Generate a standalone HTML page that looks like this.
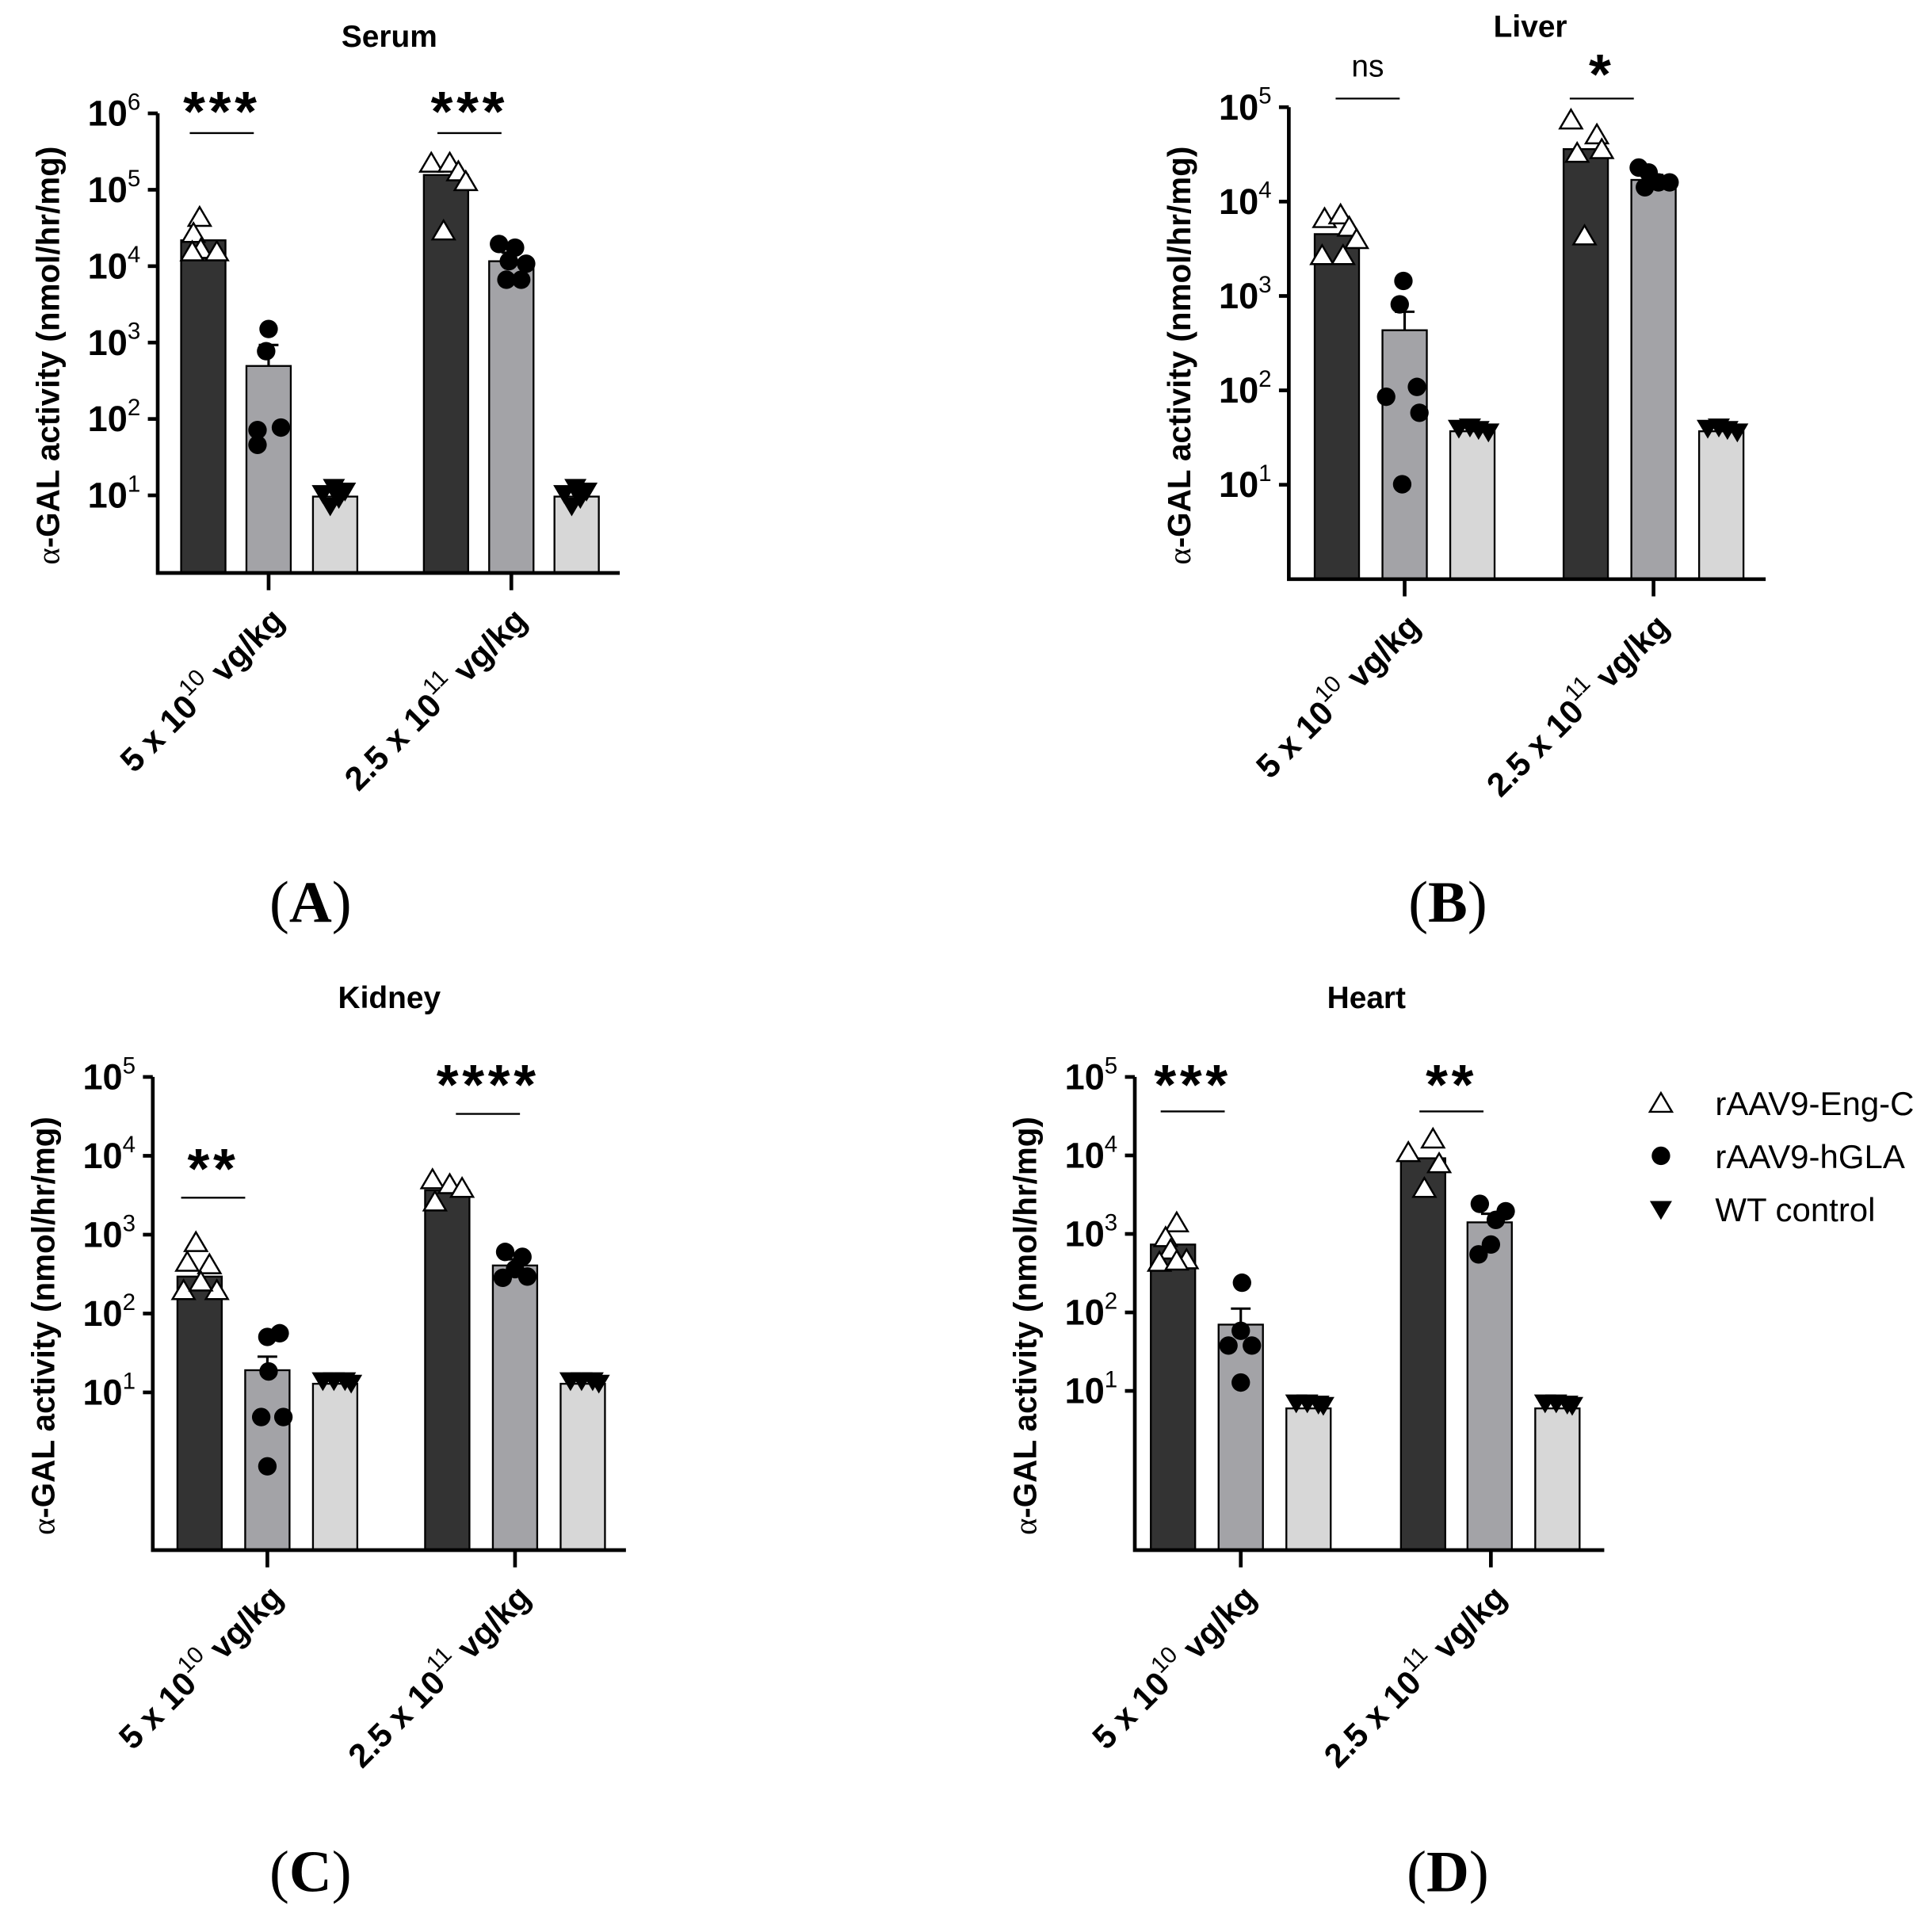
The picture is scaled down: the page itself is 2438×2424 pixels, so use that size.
<!DOCTYPE html>
<html><head><meta charset="utf-8"><style>
html,body{margin:0;padding:0;background:#fff}
svg{display:block}
text{font-family:"Liberation Sans",sans-serif}
</style></head><body>
<svg id="s" width="2438" height="2424" viewBox="0 0 1568 1559" preserveAspectRatio="none" xmlns="http://www.w3.org/2000/svg"></svg>
<script>
const S=document.getElementById('s');let h='';
const C=['#333333','#a3a3a7','#d7d7d7'];
function tri(x,y,up){const r=9;return up?`<path d="M${x},${y-r} L${x+r},${y+r*0.7} L${x-r},${y+r*0.7}Z" fill="#fff" stroke="#000" stroke-width="1.6"/>`:`<path d="M${x-r},${y-r*0.7} L${x+r},${y-r*0.7} L${x},${y+r}Z" fill="#000"/>`}
function dot(x,y){return `<circle cx="${x}" cy="${y}" r="7.5" fill="#000"/>`}
function panel(p){
 const {ax,top,dec,bot,right,n,title,tx,ty,bars,ticks,sig,pts,letter,lx,ly,err}=p;
 h+=`<text x="${tx}" y="${ty}" font-size="25" font-weight="bold" text-anchor="middle">${title}</text>`;
 bars.forEach((b,i)=>{h+=`<rect x="${b[0]}" y="${b[1]}" width="36" height="${bot-b[1]}" fill="${C[i%3]}" stroke="#000" stroke-width="1.5"/>`;});
 err.forEach(e=>{h+=`<path d="M${e[0]},${e[1]} V${e[2]} M${e[0]-8},${e[2]} H${e[0]+8}" stroke="#000" stroke-width="2" fill="none"/>`});
 h+=`<path d="M${ax},${top} V${bot} H${right}" stroke="#000" stroke-width="3" fill="none"/>`;
 for(let i=0;i<n;i++){const y=top+i*dec;const e=n-i;
  h+=`<line x1="${ax-8}" y1="${y}" x2="${ax}" y2="${y}" stroke="#000" stroke-width="3"/>`;
  h+=`<text x="${ax-14}" y="${y+10}" font-size="29" font-weight="bold" text-anchor="end">10<tspan dy="-13" font-size="19" font-weight="normal">${e}</tspan></text>`;}
 ticks.forEach((t,i)=>{h+=`<line x1="${t}" y1="${bot}" x2="${t}" y2="${bot+14}" stroke="#000" stroke-width="3"/>`;
  const lab=i==0?['5 x 10','10']:['2.5 x 10','11'];
  h+=`<text transform="translate(${t+14},${bot+40}) rotate(-45)" font-size="27" font-weight="bold" text-anchor="end">${lab[0]}<tspan dy="-13" font-size="19" font-weight="normal">${lab[1]}</tspan><tspan dy="13">  vg/kg</tspan></text>`;});
 sig.forEach(s=>{h+=`<text x="${s[0]}" y="${s[1]+6}" font-size="${s[3]==='ns'?25:46}" font-weight="${s[3]==='ns'?'normal':'bold'}" text-anchor="middle" letter-spacing="${s[3]==='ns'?0:3}">${s[3]}</text><line x1="${s[0]-26}" y1="${s[2]}" x2="${s[0]+26}" y2="${s[2]}" stroke="#000" stroke-width="1.5"/>`});
 pts.t.forEach(q=>h+=tri(q[0],q[1],true));pts.d.forEach(q=>h+=dot(q[0],q[1]));pts.v.forEach(q=>h+=tri(q[0],q[1],false));
 const cy=(top+bot)/2+10;
 h+=`<text transform="translate(${ax-80},${cy}) rotate(-90)" font-size="26" font-weight="bold" text-anchor="middle"><tspan font-family="Liberation Serif" font-weight="normal">α</tspan>-GAL activity (nmol/hr/mg)</text>`;
 h+=`<text x="${lx}" y="${ly}" font-size="48" text-anchor="middle" style="font-family:'Liberation Serif',serif">(<tspan font-weight="bold">${letter}</tspan>)</text>`;
}
panel({ax:128,top:92,dec:62,bot:465,right:503,n:6,title:'Serum',tx:316,ty:38,
 bars:[[147,195],[200,297],[254,403],[344,142],[397,212],[450,403]],ticks:[218,415],
 err:[[218,297,280],[415,212,205]],
 sig:[[180,100,108,'***'],[381,100,108,'***']],
 pts:{t:[[162,177],[157,190],[163,203],[176,205],[156,205],[350,133],[365,133],[372,140],[378,148],[360,188]],
 d:[[218,267],[216,285],[209,349],[228,347],[209,361],[405,198],[418,201],[413,212],[411,227],[423,227],[427,214]],
 v:[[262,400],[271,395],[280,398],[268,410],[275,404],[458,400],[467,395],[476,398],[464,410],[471,404]]},
 letter:'A',lx:252,ly:748});
panel({ax:1046,top:87,dec:76.6,bot:470,right:1433,n:5,title:'Liver',tx:1242,ty:30,
 bars:[[1067,190],[1122,268],[1177,350],[1269,121],[1324,146],[1379,350]],ticks:[1140,1342],
 err:[[1140,268,253],[1342,146,142]],
 sig:[[1110,56,80,'ns'],[1300,70,80,'*']],
 pts:{t:[[1075,178],[1088,175],[1095,185],[1073,208],[1090,208],[1101,195],[1275,98],[1296,110],[1300,122],[1280,125],[1286,192]],
 d:[[1139,228],[1136,247],[1125,322],[1150,314],[1152,335],[1138,393],[1330,136],[1338,140],[1346,148],[1355,148],[1335,152]],
 v:[[1184,347],[1193,346],[1200,348],[1208,350],[1386,347],[1395,346],[1402,348],[1410,350]]},
 letter:'B',lx:1175,ly:748});
panel({ax:124,top:874,dec:64,bot:1258,right:508,n:5,title:'Kidney',tx:316,ty:818,
 bars:[[144,1036],[199,1112],[254,1123],[345,966],[400,1027],[455,1123]],ticks:[217,418],
 err:[[217,1112,1101],[418,1027,1022]],
 sig:[[173,958,972,'**'],[396,890,904,'****']],
 pts:{t:[[159,1009],[152,1025],[170,1027],[149,1048],[176,1048],[163,1041],[351,958],[365,962],[375,965],[353,976]],
 d:[[227,1082],[217,1085],[218,1113],[212,1150],[230,1150],[217,1190],[410,1016],[424,1020],[408,1037],[428,1036],[418,1030]],
 v:[[262,1120],[271,1120],[280,1120],[285,1122],[463,1120],[472,1120],[481,1120],[486,1122]]},
 letter:'C',lx:252,ly:1535});
panel({ax:921,top:874,dec:63.7,bot:1258,right:1302,n:5,title:'Heart',tx:1109,ty:818,
 bars:[[934,1010],[989,1075],[1044,1143],[1137,940],[1191,992],[1246,1143]],ticks:[1007,1210],
 err:[[1007,1075,1062],[1210,992,985]],
 sig:[[968,890,902,'***'],[1178,890,902,'**']],
 pts:{t:[[955,993],[946,1005],[950,1015],[941,1025],[963,1023],[955,1024],[1143,936],[1163,925],[1168,945],[1156,965]],
 d:[[1008,1041],[1007,1080],[997,1092],[1016,1092],[1007,1122],[1201,977],[1214,990],[1222,983],[1210,1010],[1200,1018]],
 v:[[1052,1138],[1061,1138],[1070,1139],[1074,1140],[1254,1138],[1263,1138],[1272,1139],[1276,1140]]},
 letter:'D',lx:1175,ly:1535});
h+=tri(1348,896,true)+`<text x="1392" y="905" font-size="27">rAAV9-Eng-C</text>`;
h+=dot(1348,938)+`<text x="1392" y="948" font-size="27">rAAV9-hGLA</text>`;
h+=tri(1348,981,false)+`<text x="1392" y="991" font-size="27">WT control</text>`;
S.innerHTML=h;
</script>
</body></html>
